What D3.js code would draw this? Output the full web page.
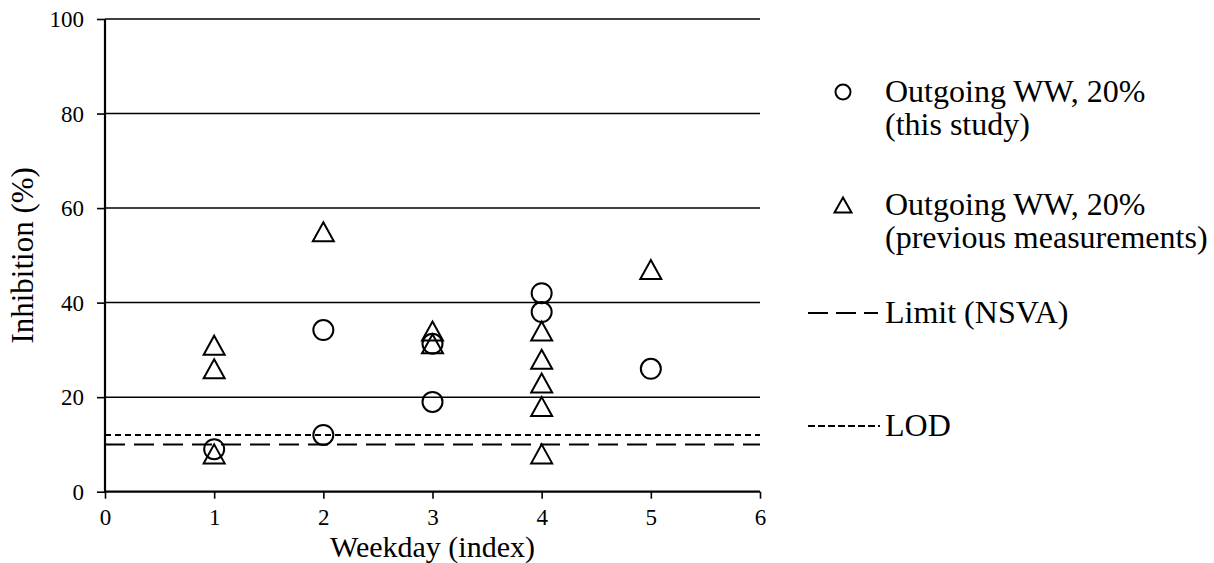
<!DOCTYPE html>
<html>
<head>
<meta charset="utf-8">
<script src="https://cdn.jsdelivr.net/npm/d3@7/dist/d3.min.js"></script>
<style>
  html, body { margin: 0; padding: 0; background: #fff; }
  svg { display: block; }
  text { font-family: "Liberation Serif", "Times New Roman", serif; fill: #000; }
</style>
</head>
<body>
<svg id="chart" width="1214" height="563"></svg>
<script>
// ---- data ----
const xTicks = [0, 1, 2, 3, 4, 5, 6];
const yTicks = [0, 20, 40, 60, 80, 100];
const studyX = [1, 2, 2, 3, 3, 4, 4, 5];
const studyY = [9, 34.2, 12, 31.3, 19, 42, 38, 26];
const prevX = [1, 1, 1, 2, 3, 3, 4, 4, 4, 4, 4, 5];
const prevY = [31, 26, 8, 55, 34, 31.3, 34, 28, 23, 18, 8, 47];
const limitValue = 10;
const lodValue = 12;
const legendLabels = [
  ["Outgoing WW, 20%", "(this study)"],
  ["Outgoing WW, 20%", "(previous measurements)"],
  ["Limit (NSVA)"],
  ["LOD"]
];
const xTitle = "Weekday (index)";
const yTitle = "Inhibition (%)";

// ---- layout ----
const svg = d3.select("#chart");
const L = 105, R = 760, T = 19, B = 491.7;
const x = d3.scaleLinear().domain([0, 6]).range([L, R]);
const y = d3.scaleLinear().domain([0, 100]).range([B, T]);

// gridlines
svg.append("g").selectAll("line").data(yTicks.filter(d => d > 0)).join("line")
  .attr("x1", x(0)).attr("x2", x(6))
  .attr("y1", d => y(d)).attr("y2", d => y(d))
  .attr("stroke", "#000").attr("stroke-width", 1.5);

// axes
const yAxis = d3.axisLeft(y).tickValues(yTicks).tickFormat(d3.format("d")).tickSize(8).tickPadding(13);
const gy = svg.append("g").attr("transform", `translate(${L},0)`).call(yAxis)
  .attr("font-family", "Liberation Serif").attr("font-size", 23);
gy.select(".domain").attr("stroke-width", 2.2).attr("d", `M0,${B}V${T}`);
gy.selectAll(".tick line").attr("stroke-width", 1.6);
gy.selectAll(".tick text").attr("dy", "0.34em");

const xAxis = d3.axisBottom(x).tickValues(xTicks).tickFormat(d3.format("d")).tickSize(7).tickPadding(5);
const gx = svg.append("g").attr("transform", `translate(0,${B})`).call(xAxis)
  .attr("font-family", "Liberation Serif").attr("font-size", 23);
gx.select(".domain").attr("stroke-width", 2.2).attr("d", `M${L},0H${R}`);
gx.selectAll(".tick line").attr("stroke-width", 1.6);
gx.selectAll(".tick text").attr("dy", "0.92em");

// reference lines
svg.append("line").attr("x1", x(0)).attr("x2", x(6))
  .attr("y1", y(limitValue)).attr("y2", y(limitValue))
  .attr("stroke", "#000").attr("stroke-width", 2).attr("stroke-dasharray", "20,9");
svg.append("line").attr("x1", x(0)).attr("x2", x(6))
  .attr("y1", y(lodValue)).attr("y2", y(lodValue))
  .attr("stroke", "#000").attr("stroke-width", 2).attr("stroke-dasharray", "6,4");

// triangle path centered on bounding box
function triPath(hw, hh) {
  return `M0,${-hh}L${hw},${hh}L${-hw},${hh}Z`;
}

// markers: previous (triangles)
svg.append("g").selectAll("path").data(prevX.map((d, i) => [d, prevY[i]])).join("path")
  .attr("d", triPath(10.5, 9.5))
  .attr("transform", d => `translate(${x(d[0])},${y(d[1])})`)
  .attr("fill", "none").attr("stroke", "#000").attr("stroke-width", 2);

// markers: this study (circles)
svg.append("g").selectAll("circle").data(studyX.map((d, i) => [d, studyY[i]])).join("circle")
  .attr("cx", d => x(d[0])).attr("cy", d => y(d[1])).attr("r", 10)
  .attr("fill", "none").attr("stroke", "#000").attr("stroke-width", 2);

// axis titles
svg.append("text").attr("x", (L + R) / 2).attr("y", 557)
  .attr("text-anchor", "middle").style("font-size", "30px").text(xTitle);
svg.append("text").attr("transform", `translate(33,${(T + B) / 2}) rotate(-90)`)
  .attr("text-anchor", "middle").style("font-size", "31px").text(yTitle);

// legend
const lg = svg.append("g");
const tx = 885;
lg.append("circle").attr("cx", 843).attr("cy", 92).attr("r", 7.5)
  .attr("fill", "none").attr("stroke", "#000").attr("stroke-width", 2);
lg.append("path").attr("d", triPath(8.5, 7.5)).attr("transform", "translate(843,205)")
  .attr("fill", "none").attr("stroke", "#000").attr("stroke-width", 2);
lg.append("line").attr("x1", 808).attr("x2", 878).attr("y1", 313).attr("y2", 313)
  .attr("stroke", "#000").attr("stroke-width", 2).attr("stroke-dasharray", "20,8");
lg.append("line").attr("x1", 808).attr("x2", 880).attr("y1", 426).attr("y2", 426)
  .attr("stroke", "#000").attr("stroke-width", 2).attr("stroke-dasharray", "7,3");

const baselines = [[102, 135], [215, 248], [323], [436]];
legendLabels.forEach((lines, i) => {
  lines.forEach((s, j) => {
    lg.append("text").attr("x", tx).attr("y", baselines[i][j]).style("font-size", "32px").text(s);
  });
});
</script>
</body>
</html>
